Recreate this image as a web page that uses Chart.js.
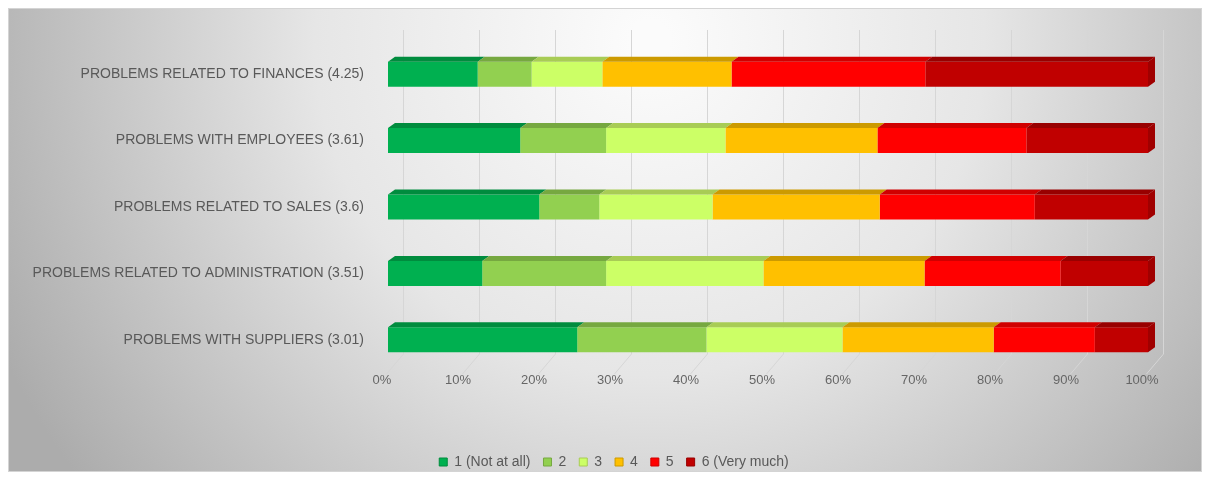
<!DOCTYPE html>
<html lang="en">
<head>
  <meta charset="UTF-8" />
  <title>Problems chart</title>
  <style>
    * { margin: 0; padding: 0; box-sizing: border-box; }
    body { background: #ffffff; width: 1210px; height: 479px; overflow: hidden; }
    #wrap { position: relative; width: 1210px; height: 479px; }
  </style>
</head>
<body>
  <div id="wrap"><canvas id="chart" width="1210" height="479"></canvas></div>

  <script src="https://cdn.jsdelivr.net/npm/chart.js"></script>
  <script>
// categories, top to bottom
const categories = [
  'PROBLEMS RELATED TO FINANCES (4.25)',
  'PROBLEMS WITH EMPLOYEES (3.61)',
  'PROBLEMS RELATED TO SALES (3.6)',
  'PROBLEMS RELATED TO ADMINISTRATION (3.51)',
  'PROBLEMS WITH SUPPLIERS (3.01)'
];

// share of answers (%) per level
const level1 = [11.8, 17.4, 19.9, 12.4, 24.9];
const level2 = [7.1, 11.3, 7.9, 16.3, 17.0];
const level3 = [9.3, 15.7, 14.9, 20.7, 17.9];
const level4 = [17.0, 20.0, 22.0, 21.2, 19.9];
const level5 = [25.5, 19.6, 20.4, 17.9, 13.3];
const level6 = [29.3, 16.0, 14.9, 11.5, 7.0];

const levelNames = ['1 (Not at all)', '2', '3', '4', '5', '6 (Very much)'];
const xTicks = [0, 10, 20, 30, 40, 50, 60, 70, 80, 90, 100];

const fronts = ['#00b050', '#92d050', '#ccff66', '#ffc000', '#ff0000', '#c00000'];
const tops   = ['#008c3e', '#76a840', '#a8cc55', '#cc9a00', '#d00000', '#980000'];

const DX = 7, DY = 5;   // bar depth

const frame = {
  id: 'frame',
  afterLayout(chart) {
    // legend sits centred on the whole frame, not the plot
    chart.legend.left += 40;
    chart.legend.right += 40;
  },
  beforeDraw(chart) {
    const c = chart.ctx;
    c.save();
    const g = c.createRadialGradient(650, 40, 20, 650, 40, 720);
    g.addColorStop(0, '#fbfbfb');
    g.addColorStop(0.45, '#e6e6e6');
    g.addColorStop(1, '#acacac');
    c.fillStyle = g;
    c.fillRect(9, 9, 1192, 462);
    c.strokeStyle = '#d4d4d4';
    c.lineWidth = 1;
    c.strokeRect(8.5, 8.5, 1193, 463);
    c.restore();
  },
  beforeDatasetsDraw(chart) {
    const c = chart.ctx, xs = chart.scales.x;
    c.save();
    c.strokeStyle = '#d6d6d6';
    c.lineWidth = 1;
    xTicks.forEach(v => {
      const x = Math.round(xs.getPixelForValue(v)) + 0.5;
      c.beginPath();
      c.moveTo(x + 15, 30);
      c.lineTo(x + 15, 354);
      c.lineTo(x - 2, 374);
      c.stroke();
    });
    c.restore();
  },
  afterDatasetsDraw(chart) {
    const c = chart.ctx;
    const n = chart.data.datasets.length;
    c.save();
    chart.data.datasets.forEach((ds, i) => {
      const meta = chart.getDatasetMeta(i);
      meta.data.forEach(bar => {
        const { x, y, base, height } = bar.getProps(['x', 'y', 'base', 'height'], true);
        const top = y - height / 2, bot = y + height / 2;
        c.fillStyle = tops[i];
        c.beginPath();
        c.moveTo(base, top);
        c.lineTo(base + DX, top - DY);
        c.lineTo(x + DX, top - DY);
        c.lineTo(x, top);
        c.closePath();
        c.fill();
        if (i === n - 1) {
          c.fillStyle = '#a00000';
          c.beginPath();
          c.moveTo(x, top);
          c.lineTo(x + DX, top - DY);
          c.lineTo(x + DX, bot - DY);
          c.lineTo(x, bot);
          c.closePath();
          c.fill();
        }
      });
    });
    c.restore();
  }
};

const series = [level1, level2, level3, level4, level5, level6];

new Chart(document.getElementById('chart'), {
  type: 'bar',
  data: {
    labels: categories,
    datasets: series.map((d, i) => ({
      label: levelNames[i],
      data: d,
      backgroundColor: fronts[i],
      borderWidth: 0,
      barPercentage: 0.376,
      categoryPercentage: 1
    }))
  },
  options: {
    indexAxis: 'y',
    responsive: false,
    animation: false,
    layout: { padding: { top: 41, right: 62, left: 0, bottom: 0 } },
    scales: {
      x: {
        stacked: true,
        min: 0,
        max: 100,
        grid: { display: false },
        border: { display: false },
        afterBuildTicks: s => { s.ticks = xTicks.map(v => ({ value: v })); },
        ticks: {
          color: '#666666',
          font: { family: 'Liberation Sans', size: 13 },
          padding: -8,
          labelOffset: -6,
          callback: v => v + '%'
        },
        afterFit: s => { s.height = 69; }
      },
      y: {
        stacked: true,
        grid: { display: false, drawTicks: false },
        border: { display: false },
        ticks: {
          color: '#595959',
          font: { family: 'Liberation Sans', size: 14 },
          padding: 24
        },
        afterFit: s => { s.width = 388; }
      }
    },
    plugins: {
      legend: {
        position: 'bottom',
        labels: {
          color: '#595959',
          font: { family: 'Liberation Sans', size: 14 },
          boxWidth: 8,
          boxHeight: 8,
          padding: 13,
          generateLabels: chart => chart.data.datasets.map((ds, i) => ({
            text: ds.label,
            fillStyle: fronts[i],
            strokeStyle: tops[i],
            lineWidth: 1,
            fontColor: '#595959',
            datasetIndex: i
          }))
        }
      },
      tooltip: { enabled: false }
    }
  },
  plugins: [frame]
});
  </script>
</body>
</html>
